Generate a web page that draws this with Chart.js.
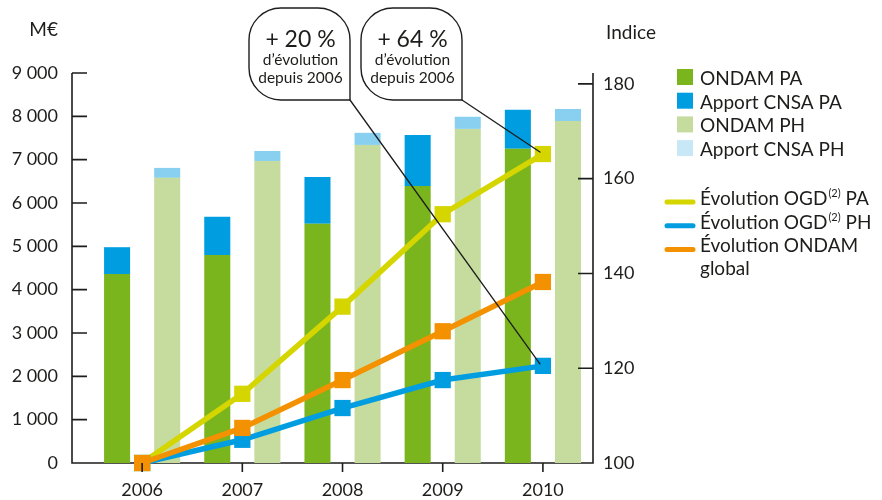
<!DOCTYPE html>
<html>
<head>
<meta charset="utf-8">
<script src="https://cdn.jsdelivr.net/npm/chart.js@4.4.0/dist/chart.umd.min.js"></script>
<style>
    html, body { margin: 0; padding: 0; background: #fff; }
    canvas { display: block; }
</style>
</head>
<body>
<canvas id="chart" width="882" height="500"></canvas>
<script>
// years on the x axis
const years = [2006, 2007, 2008, 2009, 2010];

// M€ (left axis)
const ondamPA = [4360, 4800, 5520, 6390, 7250];
const apportPA = [620, 880, 1080, 1180, 900];
const ondamPH = [6580, 6970, 7340, 7710, 7890];
const apportPH = [230, 230, 280, 280, 280];

// index, base 100 in 2006 (right axis)
const evolPA = [100, 114.6, 133, 152.5, 165.2];
const evolPH = [100, 104.9, 111.6, 117.5, 120.5];
const evolOndam = [100, 107.4, 117.5, 127.8, 138.2];

const leftTicks = [0, 1000, 2000, 3000, 4000, 5000, 6000, 7000, 8000, 9000];
const rightTicks = [100, 120, 140, 160, 180];

const FONT = 'Lato';
const INK = '#1d1d1b';

function points(values) {
    return years.map((x, i) => ({ x: x, y: values[i] }));
}

function fmt(v) {
    return String(v).replace(/\B(?=(\d{3})+(?!\d))/g, ' ');
}

function bar(label, values, color, stack, order) {
    return {
        type: 'bar', label: label, data: points(values), backgroundColor: color,
        stack: stack, order: order, yAxisID: 'y',
        categoryPercentage: 1, barPercentage: 0.52, borderWidth: 0
    };
}

function line(label, values, color, order) {
    return {
        type: 'line', label: label, data: points(values), yAxisID: 'y1', order: order,
        borderColor: color, backgroundColor: color, borderWidth: 5.5,
        pointStyle: 'rect', pointRadius: 11.5, pointBorderWidth: 0, clip: false
    };
}

function bubble(ctx, x, y, w, h, r) {
    ctx.beginPath();
    ctx.moveTo(x + r, y);
    ctx.arcTo(x + w, y, x + w, y + r, r);
    ctx.lineTo(x + w, y + h);
    ctx.lineTo(x + r, y + h);
    ctx.arcTo(x, y + h, x, y + h - r, r);
    ctx.lineTo(x, y + r);
    ctx.arcTo(x, y, x + r, y, r);
    ctx.closePath();
    ctx.fillStyle = '#fff';
    ctx.fill();
    ctx.lineWidth = 1.4;
    ctx.strokeStyle = INK;
    ctx.stroke();
}

const axesPlugin = {
    id: 'axes',
    beforeDatasetsDraw(chart) {
        const { ctx, chartArea: a } = chart;
        ctx.save();
        ctx.strokeStyle = INK;
        ctx.lineWidth = 1.6;
        ctx.beginPath();
        ctx.moveTo(a.left, a.top);
        ctx.lineTo(a.left, a.bottom);
        ctx.lineTo(a.right, a.bottom);
        ctx.lineTo(a.right, a.top);
        ctx.stroke();
        ctx.restore();
    },
    afterDatasetsDraw(chart) {
        const { ctx, chartArea: a, scales } = chart;
        ctx.save();
        ctx.strokeStyle = INK;
        ctx.lineWidth = 1.6;
        ctx.beginPath();
        leftTicks.forEach(v => {
            const y = scales.y.getPixelForValue(v);
            if (v === 0) return;
            ctx.moveTo(a.left, y);
            ctx.lineTo(a.left + 15, y);
        });
        rightTicks.forEach(v => {
            const y = scales.y1.getPixelForValue(v);
            if (v === 100) return;
            ctx.moveTo(a.right, y);
            ctx.lineTo(a.right - 15, y);
        });
        years.forEach(v => {
            const x = scales.x.getPixelForValue(v);
            ctx.moveTo(x, a.bottom);
            ctx.lineTo(x, a.bottom + 9);
        });
        ctx.stroke();
        ctx.restore();
    },
    afterDraw(chart) {
        const { ctx, scales } = chart;
        ctx.save();
        ctx.fillStyle = INK;
        ctx.textBaseline = 'alphabetic';

        // axis titles
        ctx.font = '19px ' + FONT;
        ctx.textAlign = 'right';
        ctx.fillText('M€', 58, 36);
        ctx.textAlign = 'left';
        ctx.fillText('Indice', 606, 39);

        // legend: bars
        const boxes = [
            ['ONDAM PA', '#7ab51d'],
            ['Apport CNSA PA', '#009ee0'],
            ['ONDAM PH', '#c6dc9f'],
            ['Apport CNSA PH', '#c8e8f8']
        ];
        boxes.forEach((b, i) => {
            const base = 85 + i * 23.7;
            ctx.fillStyle = b[1];
            ctx.fillRect(677, base - 16, 16, 16);
            ctx.fillStyle = INK;
            ctx.font = '19px ' + FONT;
            ctx.fillText(b[0], 700, base);
        });

        // legend: lines
        const lines = [
            ['Évolution OGD', '(2)', ' PA', '#d5d600'],
            ['Évolution OGD', '(2)', ' PH', '#009ee0'],
            ['Évolution ONDAM', '', '', '#f39100']
        ];
        lines.forEach((l, i) => {
            const base = 205 + i * 23.7;
            ctx.strokeStyle = l[3];
            ctx.lineWidth = 5;
            ctx.lineCap = 'round';
            ctx.beginPath();
            ctx.moveTo(667, base - 3);
            ctx.lineTo(693, base - 3);
            ctx.stroke();
            ctx.fillStyle = INK;
            ctx.font = '19px ' + FONT;
            let x = 700;
            ctx.fillText(l[0], x, base);
            x += ctx.measureText(l[0]).width + 1;
            if (l[1]) {
                ctx.font = '11px ' + FONT;
                ctx.fillText(l[1], x, base - 8);
                x += ctx.measureText(l[1]).width;
                ctx.font = '19px ' + FONT;
                ctx.fillText(l[2], x, base);
            }
        });
        ctx.fillText('global', 700, 275);

        // callouts
        const last = years[years.length - 1];
        const tx = scales.x.getPixelForValue(last);
        const callouts = [
            ['+ 20 %', 249, evolPH[evolPH.length - 1]],
            ['+ 64 %', 361, evolPA[evolPA.length - 1]]
        ];
        callouts.forEach(c => {
            const bx = c[1], by = 8, bw = 101, bh = 92;
            ctx.strokeStyle = INK;
            ctx.lineWidth = 1.3;
            ctx.beginPath();
            ctx.moveTo(bx + bw, by + bh);
            ctx.lineTo(tx - 3, scales.y1.getPixelForValue(c[2]) - 2);
            ctx.stroke();
            bubble(ctx, bx, by, bw, bh, 32);
            ctx.fillStyle = INK;
            ctx.textAlign = 'center';
            ctx.font = '23px ' + FONT;
            ctx.fillText(c[0], bx + bw / 2 + 1, 47);
            ctx.font = '15.5px ' + FONT;
            ctx.fillText('d’évolution', bx + bw / 2 + 1, 65);
            ctx.fillText('depuis 2006', bx + bw / 2 + 1, 83);
        });
        ctx.restore();
    }
};

new Chart(document.getElementById('chart'), {
    data: {
        datasets: [
            line('Évolution ONDAM global', evolOndam, '#f39100', 0),
            line('Évolution OGD PH', evolPH, '#009ee0', 1),
            line('Évolution OGD PA', evolPA, '#d5d600', 2),
            bar('ONDAM PA', ondamPA, '#7ab51d', 'PA', 10),
            bar('Apport CNSA PA', apportPA, '#009ee0', 'PA', 11),
            bar('ONDAM PH', ondamPH, '#c6dc9f', 'PH', 12),
            bar('Apport CNSA PH', apportPH, '#89d0f0', 'PH', 13)
        ]
    },
    options: {
        responsive: false,
        animation: false,
        layout: { padding: { top: 73, right: 239, left: 0, bottom: 0 } },
        plugins: { legend: { display: false }, tooltip: { enabled: false } },
        scales: {
            x: {
                type: 'linear', min: 2005.3, max: 2010.5, stacked: true, offset: false,
                afterBuildTicks: s => { s.ticks = years.map(v => ({ value: v })); },
                afterFit: s => { s.height = 37; },
                grid: { display: false, offset: false, drawTicks: false }, border: { display: false },
                ticks: { callback: v => String(v), color: INK, font: { family: FONT, size: 18 }, padding: 16, maxRotation: 0 }
            },
            y: {
                position: 'left', min: 0, max: 9000, stacked: true,
                afterBuildTicks: s => { s.ticks = leftTicks.map(v => ({ value: v })); },
                afterFit: s => { s.width = 72; },
                grid: { display: false, drawTicks: false }, border: { display: false },
                ticks: { callback: v => fmt(v), color: INK, font: { family: FONT, size: 18 }, padding: 14 }
            },
            y1: {
                position: 'right', min: 100, max: 182.3,
                afterBuildTicks: s => { s.ticks = rightTicks.map(v => ({ value: v })); },
                afterFit: s => { s.width = 50; },
                grid: { display: false, drawTicks: false }, border: { display: false },
                ticks: { color: INK, font: { family: FONT, size: 18 }, padding: 10 }
            }
        }
    },
    plugins: [axesPlugin]
});
</script>
</body>
</html>
